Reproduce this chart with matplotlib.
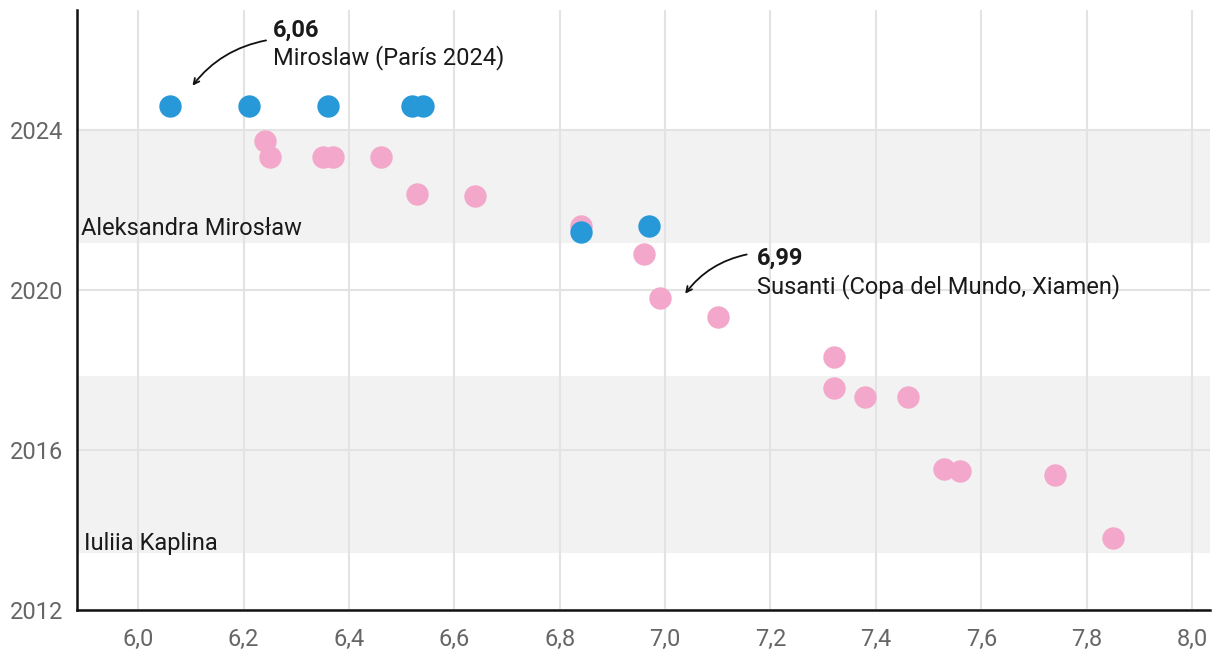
import matplotlib.pyplot as plt
import numpy as np

plt.rcParams['font.family'] = ['Roboto', 'DejaVu Sans']

# Miroslaw times (blue)
miro_time = [6.06, 6.21, 6.36, 6.52, 6.54, 6.84, 6.97]
miro_year = [2024.6, 2024.6, 2024.6, 2024.6, 2024.6, 2021.45, 2021.6]

# other world-record-era times (pink)
other_time = [6.24, 6.25, 6.35, 6.37, 6.46, 6.53, 6.64, 6.84, 6.96, 6.99,
              7.10, 7.32, 7.32, 7.38, 7.46, 7.53, 7.56, 7.74, 7.85]
other_year = [2023.73, 2023.33, 2023.33, 2023.33, 2023.33, 2022.4, 2022.35,
              2021.6, 2020.9, 2019.8, 2019.33, 2018.33, 2017.55, 2017.33,
              2017.33, 2015.53, 2015.48, 2015.38, 2013.8]

# record-holder eras: (label, start, end)
eras = [("Aleksandra Mirosław", 2021.18, 2024.0),
        ("Iuliia Kaplina", 2013.43, 2017.85)]

x_ticks = [6.0, 6.2, 6.4, 6.6, 6.8, 7.0, 7.2, 7.4, 7.6, 7.8, 8.0]
y_ticks = [2012, 2016, 2020, 2024]

FS = 17
TXT = '#1a1a1a'

fig = plt.figure(figsize=(12.2, 6.6), dpi=100)
ax = fig.add_axes([0.0631, 0.0758, 0.9287, 0.9092])

label_offsets = [0.19, 0.08]
label_x = [5.892, 5.898]
for (name, y0, y1), off, lx in zip(eras, label_offsets, label_x):
    ax.axhspan(y0, y1, color='#f2f2f2', zorder=0, lw=0)
    ax.text(lx, y0 + off, name, fontsize=FS, color=TXT,
            va='baseline', ha='left', zorder=4)

ax.scatter(other_time, other_year, s=260, color='#f2a7cb', lw=0, zorder=3)
ax.scatter(miro_time, miro_year, s=260, color='#2899d8', lw=0, zorder=3.5)

ax.set_xlim(5.884, 8.034)
ax.set_ylim(2012, 2027)
ax.set_xticks(x_ticks)
ax.set_xticklabels([f"{t:.1f}".replace('.', ',') for t in x_ticks])
ax.set_yticks(y_ticks)
ax.tick_params(length=0, labelsize=FS, labelcolor='#666666')
ax.tick_params(axis='x', pad=13)
ax.tick_params(axis='y', pad=10)
ax.grid(True, color='#e3e3e3', lw=1.5, zorder=1)
ax.set_axisbelow(True)

for s in ['top', 'right']:
    ax.spines[s].set_visible(False)
for s in ['left', 'bottom']:
    ax.spines[s].set_color('#111111')
    ax.spines[s].set_linewidth(1.8)

# annotations
ax.annotate('', xy=(6.10, 2025.05), xytext=(6.248, 2026.25),
            arrowprops=dict(arrowstyle='->', color='#111111', lw=1.3,
                            connectionstyle='arc3,rad=0.2'))
ax.text(6.256, 2026.5, '6,06', fontsize=FS, fontweight='bold', color=TXT, va='center')
ax.text(6.256, 2025.8, 'Miroslaw (París 2024)', fontsize=FS, color=TXT, va='center')

ax.annotate('', xy=(7.035, 2019.85), xytext=(7.16, 2020.9),
            arrowprops=dict(arrowstyle='->', color='#111111', lw=1.3,
                            connectionstyle='arc3,rad=0.2'))
ax.text(7.175, 2020.8, '6,99', fontsize=FS, fontweight='bold', color=TXT, va='center')
ax.text(7.175, 2020.08, 'Susanti (Copa del Mundo, Xiamen)', fontsize=FS, color=TXT, va='center')

fig.savefig('out.png', dpi=100)
